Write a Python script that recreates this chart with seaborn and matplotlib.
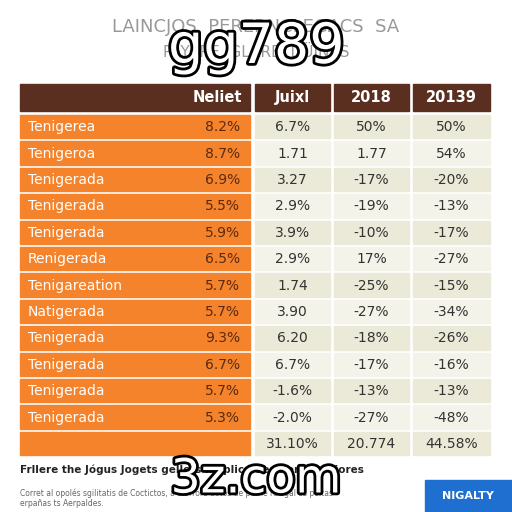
import matplotlib
matplotlib.use("Agg")
import matplotlib.pyplot as plt
import matplotlib.patheffects as pe
import seaborn as sns

sns.set_theme(style="white")
plt.rcParams['font.family'] = ['DejaVu Sans']

headers = ["Neliet", "Juixl", "2018", "20139"]
labels = ["Tenigerea", "Tenigeroa", "Tenigerada", "Tenigerada", "Tenigerada", "Renigerada",
          "Tenigareation", "Natigerada", "Tenigerada", "Tenigerada", "Tenigerada", "Tenigerada", ""]
col_nelie = ["8.2%", "8.7%", "6.9%", "5.5%", "5.9%", "6.5%", "5.7%", "5.7%", "9.3%", "6.7%", "5.7%", "5.3%", ""]
col_juixl = ["6.7%", "1.71", "3.27", "2.9%", "3.9%", "2.9%", "1.74", "3.90", "6.20", "6.7%", "-1.6%", "-2.0%", "31.10%"]
col_2018 = ["50%", "1.77", "-17%", "-19%", "-10%", "17%", "-25%", "-27%", "-18%", "-17%", "-13%", "-27%", "20.774"]
col_2019 = ["50%", "54%", "-20%", "-13%", "-17%", "-27%", "-15%", "-34%", "-26%", "-16%", "-13%", "-48%", "44.58%"]

brown = "#5b2f1f"
orange = "#f5832b"
creams = ["#ebead9", "#f4f3ea"]

fig = plt.figure(figsize=(5.12, 5.12), dpi=100)
fig.patch.set_facecolor("white")
ax = fig.add_axes([0, 0, 1, 1])
ax.set_xlim(0, 512)
ax.set_ylim(512, 0)
ax.axis("off")

# column layout (left, right)
cols = [(20, 250), (255, 330), (334, 409), (413, 490)]
top = 84
head_h = 27
row_h = 26.4
gap = 3

# header
for i, (l, r) in enumerate(cols):
    ax.add_patch(plt.Rectangle((l, top), r - l, head_h, color=brown))
    x = r - 8 if i == 0 else (l + r) / 2
    ax.text(x, top + head_h / 2, headers[i], color="white", fontsize=10.5, fontweight="bold",
            ha="right" if i == 0 else "center", va="center")

y0 = top + head_h + 4
for j in range(len(labels)):
    y = y0 + j * row_h
    l, r = cols[0]
    ax.add_patch(plt.Rectangle((l, y), r - l, row_h - gap, color=orange))
    ax.text(l + 8, y + row_h / 2 - 1, labels[j], color="white", fontsize=10, va="center")
    ax.text(r - 10, y + row_h / 2 - 1, col_nelie[j], color="#5a2a10", fontsize=10, va="center", ha="right")
    for k, vals in enumerate([col_juixl, col_2018, col_2019]):
        l2, r2 = cols[k + 1]
        ax.add_patch(plt.Rectangle((l2, y), r2 - l2, row_h - gap, color=creams[j % 2]))
        ax.text((l2 + r2) / 2, y + row_h / 2 - 1, vals[j], color="#333333", fontsize=10,
                ha="center", va="center")

ax.text(256, 27, "LAINCJOS  PERERNCLEGACS  SA", color="#999999", fontsize=13, ha="center", va="center")
ax.text(256, 52, "PAYERE  GLARE  DÜINAS", color="#999999", fontsize=11, ha="center", va="center")

ax.text(20, 470, "Frllere the Jógus Jogets gellets moplica des Persumidiores", fontsize=7.5,
        fontweight="bold", color="#222222", va="center")
ax.text(20, 493, "Corret al opolés sgilitatis de Coctictos, a biorrore dotos de porne re sgal os poltas",
        fontsize=5.5, color="#666666", va="center")
ax.text(20, 503, "erpañas ts Aerpaldes.", fontsize=5.5, color="#666666", va="center")
ax.add_patch(plt.Rectangle((425, 480), 87, 32, color="#1f6fd1"))
ax.text(468, 496, "NIGALTY", color="white", fontsize=8, fontweight="bold", ha="center", va="center")

outline = [pe.withStroke(linewidth=4, foreground="black")]
ax.text(256, 48, "gg789", color="white", fontsize=40, ha="center", va="center", path_effects=outline)
ax.text(256, 480, "3z.com", color="white", fontsize=34, ha="center", va="center", path_effects=outline)

fig.savefig("out.png", dpi=100)
